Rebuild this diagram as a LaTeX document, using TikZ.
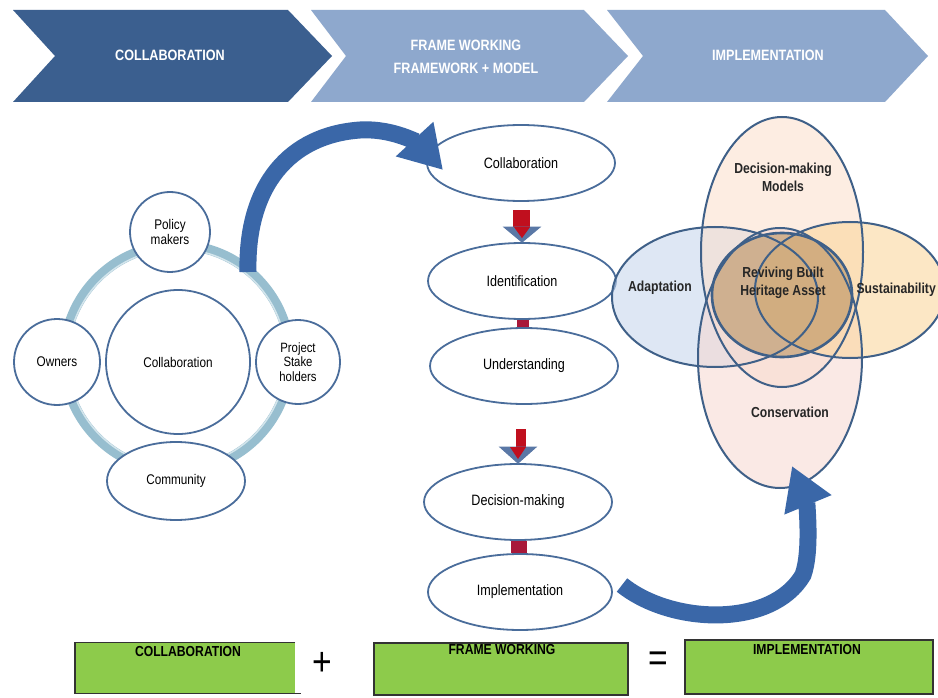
\documentclass[tikz,border=0pt]{standalone}
\usepackage{fontspec}
\setmainfont{Liberation Sans}[FakeStretch=0.84]
\usetikzlibrary{shapes.geometric,arrows.meta,calc}
\definecolor{chevdark}{HTML}{3B5F8F}
\definecolor{chevlight}{HTML}{8EA8CD}
\definecolor{edge}{HTML}{4A6D9B}
\definecolor{ringc}{HTML}{97BECF}
\definecolor{ringl}{HTML}{D3E5EC}
\definecolor{bigarrow}{HTML}{3A67A8}
\definecolor{arrred}{HTML}{C00F1E}
\definecolor{barred}{HTML}{A8193A}
\definecolor{arrhead}{HTML}{5A78A6}
\definecolor{boxgreen}{HTML}{8DCB4B}
\definecolor{boxedge}{HTML}{333333}
\definecolor{venned}{HTML}{3F6088}
\definecolor{vblue}{HTML}{C3D4EC}
\definecolor{vpeach}{HTML}{FCDFCB}
\definecolor{vpink}{HTML}{F6D8D0}
\definecolor{vyellow}{HTML}{FAD497}
\definecolor{vtan}{HTML}{B48C58}
\tikzset{
  hdr/.style={text=white, font=\bfseries\fontsize{15}{23}\selectfont, align=center},
  circ/.style={circle, draw=edge, line width=1.8pt, fill=white, inner sep=0pt,
    font=\fontsize{14}{15}\selectfont, align=center},
  oval/.style={ellipse, draw=edge, line width=1.8pt, fill=white, inner sep=0pt,
    minimum width=188pt, minimum height=76pt, font=\fontsize{15}{16}\selectfont},
  venntxt/.style={font=\bfseries\fontsize{14.5}{18}\selectfont, align=center, text=black!85},
  vennline/.style={draw=venned, line width=2pt},
  gbox/.style={rectangle, fill=boxgreen, inner sep=0pt},
  gtxt/.style={font=\bfseries\fontsize{14.5}{16}\selectfont},
  bigarr/.style={draw=bigarrow, line width=17pt, -{Triangle[width=48pt,length=42pt]}},
}
\begin{document}
\begin{tikzpicture}[x=1pt,y=-1pt]
\useasboundingbox (0,0) rectangle (938,698);
\fill[white] (0,0) rectangle (938,698);

% header chevrons
\fill[chevdark] (13,10) -- (288,10) -- (332,56) -- (288,102) -- (13,102) -- (55,56) -- cycle;
\fill[chevlight] (311,10) -- (584,10) -- (628,56) -- (584,102) -- (311,102) -- (346,56) -- cycle;
\fill[chevlight] (607,10) -- (885,10) -- (928,56) -- (885,102) -- (607,102) -- (643,56) -- cycle;
\node[hdr] (h1) at (170,55) {COLLABORATION};
\node[hdr] (h2) at (466,57) {FRAME WORKING\\FRAMEWORK + MODEL};
\node[hdr] (h3) at (768,55) {IMPLEMENTATION};

% left cluster
\draw[ringc, line width=10pt] (177,358) circle[radius=113];
\draw[ringl, line width=1.5pt] (177,358) circle[radius=109];
\node[circ, minimum size=144pt] (cc) at (178,362) {Collaboration};
\node[circ, minimum size=86pt] (own) at (57,362) {Owners};
\node[circ, minimum size=84pt, font=\fontsize{13.5}{14.5}\selectfont] (prj) at (298,362) {Project\\Stake\\holders};
\node[circ, minimum size=80pt] (pol) at (170,232) {Policy\\makers};
\node[ellipse, draw=edge, line width=1.8pt, fill=white, inner sep=0pt,
  minimum width=138pt, minimum height=78pt, font=\fontsize{14}{15}\selectfont] (com) at (176,481) {Community};

% middle column
\node[oval] (m1) at (521,163) {Collaboration};
\node[oval] (m2) at (522,281) {Identification};
\node[oval] (m3) at (524,366) {Understanding};
\node[oval] (m4) at (518,502) {Decision-making};
\node[oval, minimum width=184pt] (m5) at (520,592) {Implementation};

% red block arrows
\fill[arrred] ($(m1.south)+(-8,8)$) rectangle ($(m2.north)+(8,-15)$);
\filldraw[fill=arrhead, draw=arrhead, line width=1pt] ($(m2.north)+(-18,-15)$) -- ($(m2.north)+(18,-15)$) -- (m2.north) -- cycle;
\fill[arrred] ($(m2.north)+(-8,-15)$) -- ($(m2.north)+(8,-15)$) -- ($(m2.north)+(0,-4)$) -- cycle;
\fill[barred] ($(m2.south)+(-5,0)$) rectangle ($(m3.north)+(5,0)$);
\fill[arrred] ($(m3.south)+(-8,24)$) rectangle ($(m4.north)+(8,-16)$);
\filldraw[fill=arrhead, draw=arrhead, line width=1pt] ($(m4.north)+(-18,-16)$) -- ($(m4.north)+(18,-16)$) -- (m4.north) -- cycle;
\fill[arrred] ($(m4.north)+(-8,-16)$) -- ($(m4.north)+(8,-16)$) -- ($(m4.north)+(0,-4)$) -- cycle;
\fill[barred] ($(m4.south)+(-7,0)$) rectangle ($(m5.north)+(7,0)$);

% Venn diagram
\begin{scope}[fill opacity=0.55]
\fill[vblue] (715,297) ellipse[x radius=103, y radius=70];
\fill[vpeach] (782,252) ellipse[x radius=81, y radius=135];
\fill[vpink] (780,358) ellipse[x radius=82, y radius=130];
\fill[vyellow] (850,290) ellipse[x radius=95, y radius=68];
\fill[vtan] (782,295) ellipse[x radius=70, y radius=62];
\end{scope}
\draw[vennline] (715,297) ellipse[x radius=103, y radius=70];
\draw[vennline] (782,252) ellipse[x radius=81, y radius=135];
\draw[vennline] (780,358) ellipse[x radius=82, y radius=130];
\draw[vennline] (850,290) ellipse[x radius=95, y radius=68];
\draw[vennline, line width=2.6pt] (782,295) ellipse[x radius=70, y radius=62];
\node[venntxt] (vd) at (783,177) {Decision-making\\Models};
\node[venntxt] (va) at (660,288) {Adaptation};
\node[venntxt, anchor=east, inner sep=1pt] (vs) at (937,290) {Sustainability};
\node[venntxt] (vr) at (783,283) {Reviving Built\\Heritage Asset};
\node[venntxt] (vc) at (790,412) {Conservation};
\coordinate (venn) at (792,466);

% big curved arrows
\coordinate (a1s) at (248,272);
\coordinate (a1m) at (360,130);
\draw[bigarr] (a1s) .. controls (246,185) and (290,135) .. (a1m)
   .. controls (395,128) and (420,145) .. (443,170);
\coordinate (a2s) at (622,585);
\coordinate (a2m) at (803,575);
\draw[bigarr] (a2s) .. controls (672,625) and (772,628) .. (a2m)
   .. controls (812,550) and (806,500) .. (venn);

% bottom equation
\node[gbox, minimum width=220pt, minimum height=51pt] (g1) at (185,668) {};
\draw[boxedge, line width=1.5pt] (g1.north east) -- (g1.north west) -- (g1.south west) -- ($(g1.south east)+(6,0)$);
\node[gbox, draw=boxedge, line width=1.5pt, minimum width=254pt, minimum height=52pt] (g2) at (501,669) {};
\node[gbox, draw=boxedge, line width=1.5pt, minimum width=248pt, minimum height=54pt] (g3) at (809,667) {};
\node[gtxt] (t1) at (188,652) {COLLABORATION};
\node[gtxt] (t2) at (502,650) {FRAME WORKING};
\node[gtxt] (t3) at (807,650) {IMPLEMENTATION};
\node[font=\fontsize{40}{40}\selectfont] (plus) at (322,664) {+};
\node[font=\fontsize{40}{40}\selectfont] (eq) at (658,662) {=};
\end{tikzpicture}
\end{document}
